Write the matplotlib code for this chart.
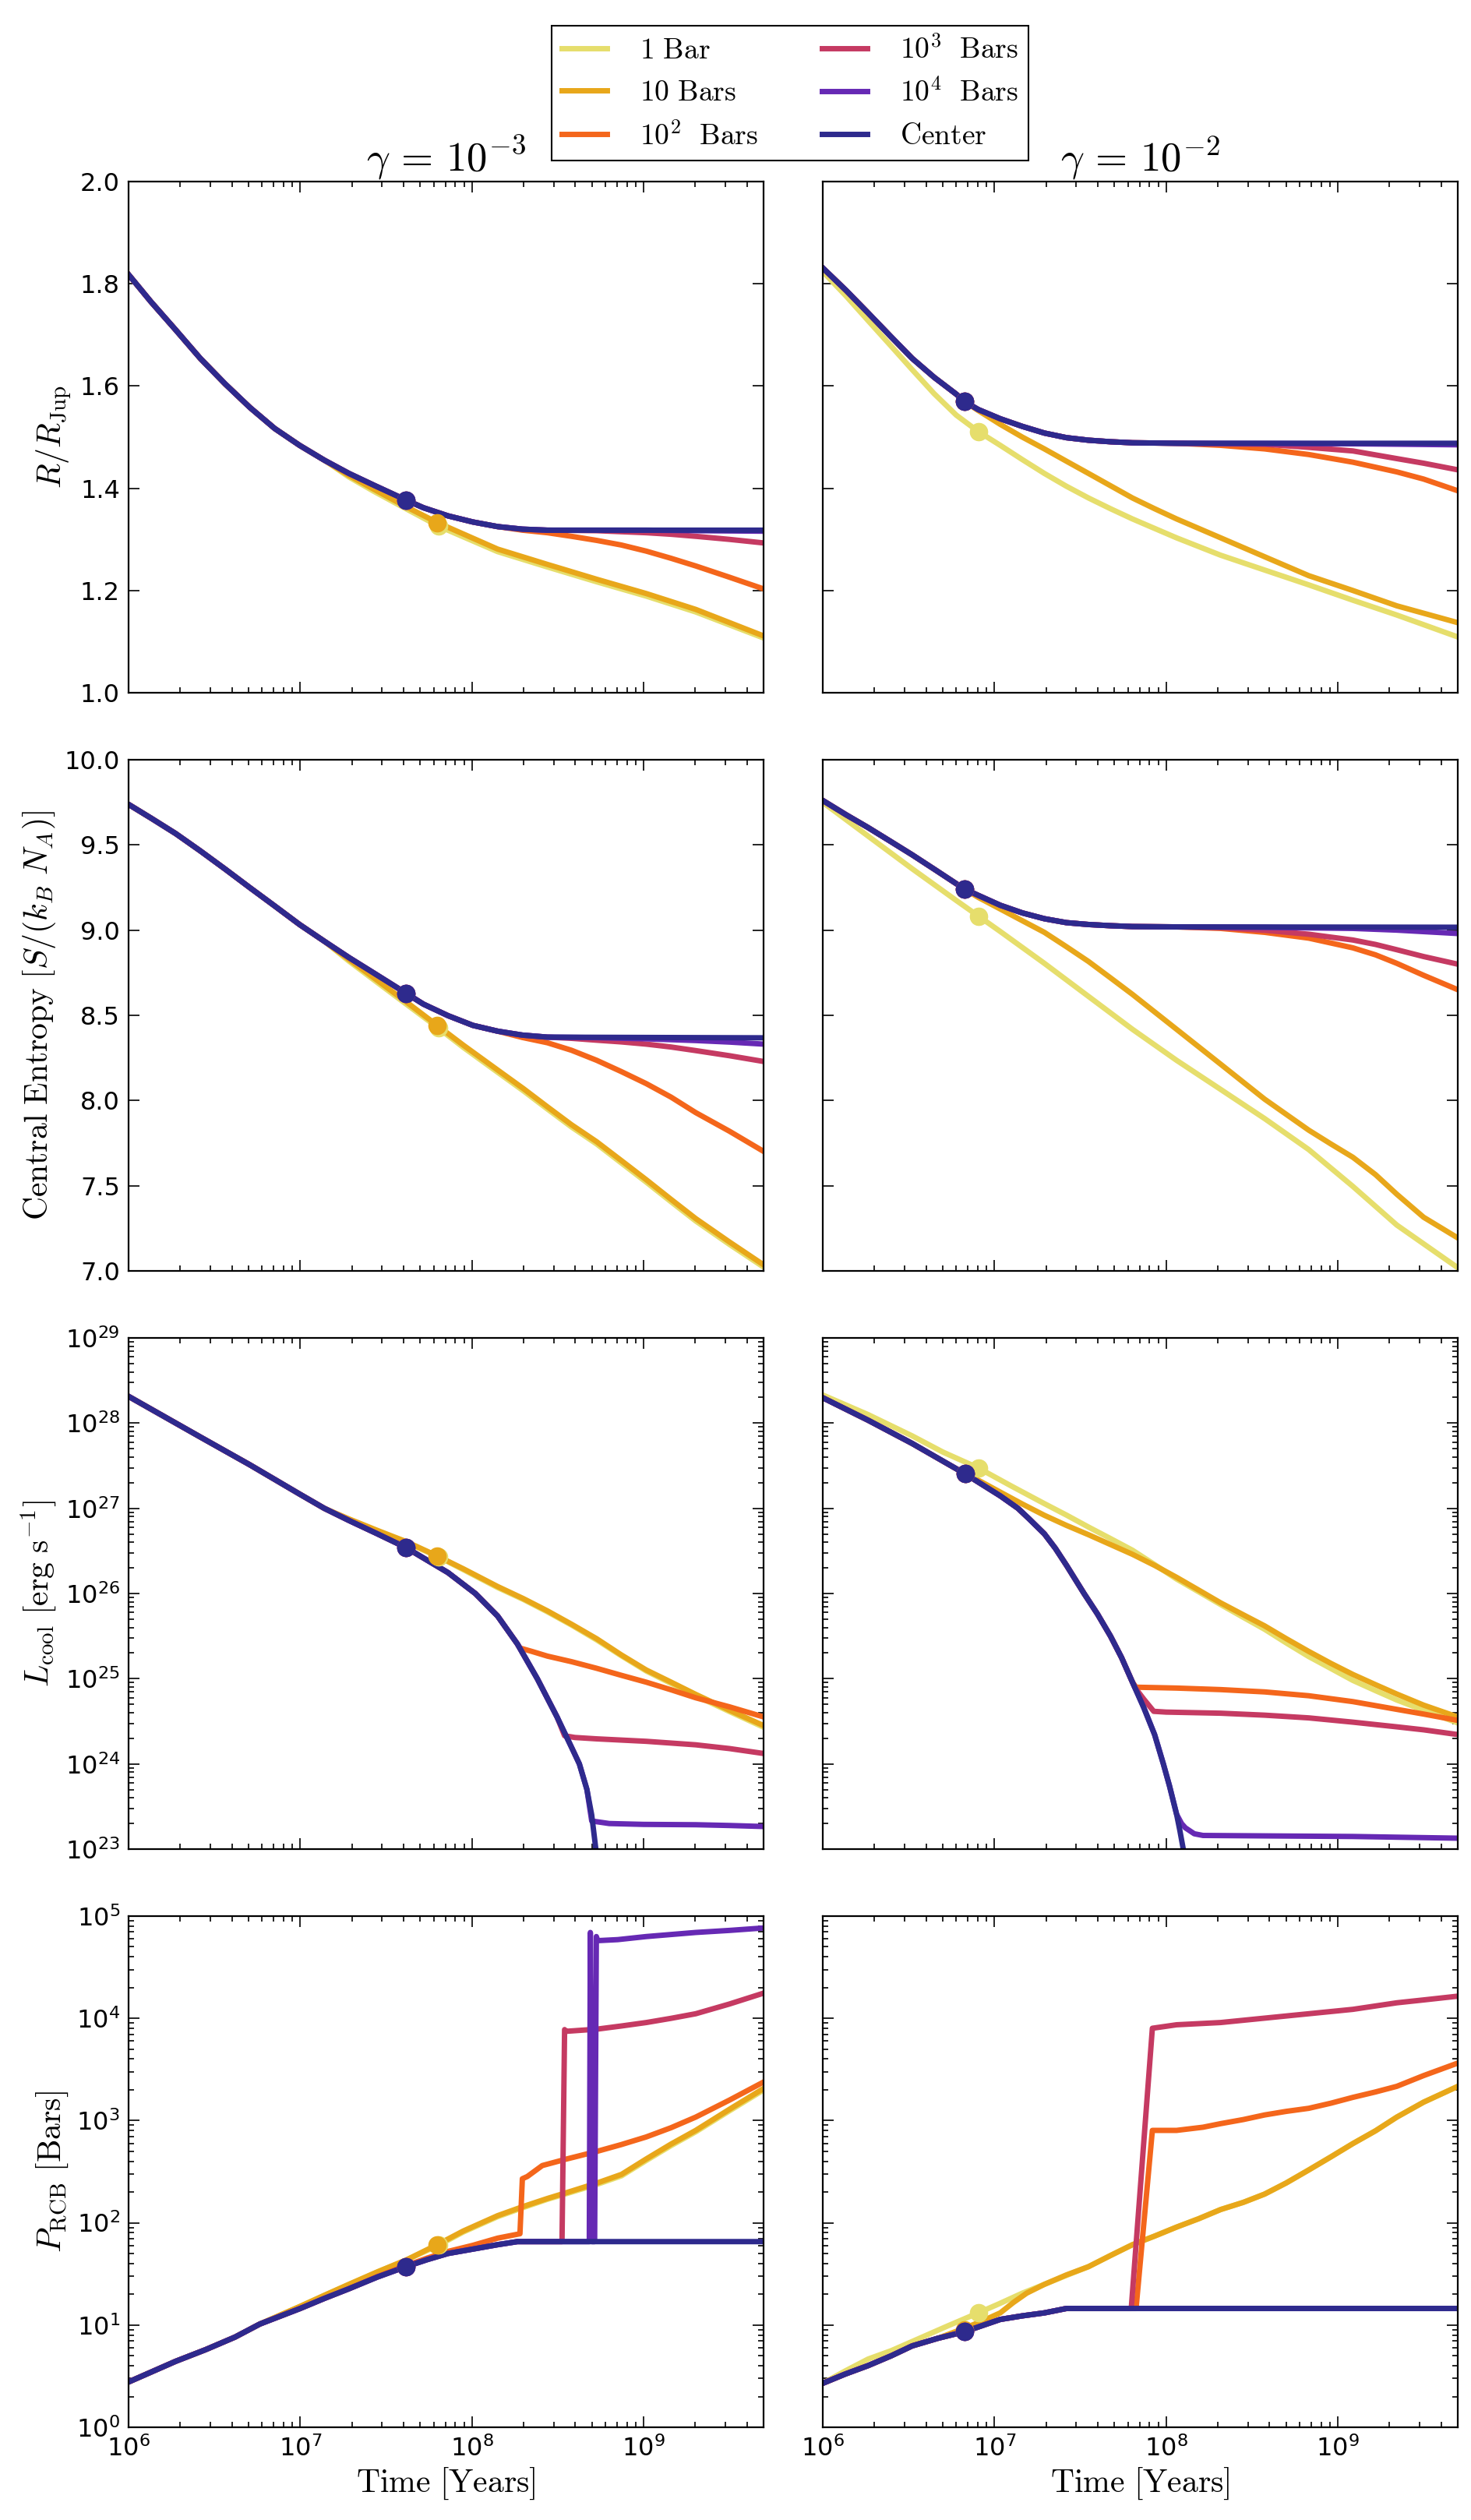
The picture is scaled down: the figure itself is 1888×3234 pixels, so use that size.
import numpy as np
import matplotlib
matplotlib.use('Agg')
import matplotlib.pyplot as plt

plt.rcParams['font.family'] = ['DejaVu Sans']
plt.rcParams['mathtext.fontset'] = 'dejavusans'

# series order: 1 Bar, 10 Bars, 1e2, 1e3, 1e4, Center
labels = [r'$\mathrm{1\ Bar}$', r'$\mathrm{10\ Bars}$', r'$10^2\ \ \mathrm{Bars}$',
          r'$10^3\ \ \mathrm{Bars}$', r'$10^4\ \ \mathrm{Bars}$', r'$\mathrm{Center}$']
colors = ['#e6de6c', '#e8a71a', '#f4661b', '#c53a62', '#6629b4', '#2e2a8d']

# times are log10(t / yr). Each panel: the Center track, then for the other
# five series the part after they leave the Center track.

# ---- radius, gamma = 1e-3
radius_lo_ct = [6.0, 6.13, 6.274, 6.418, 6.563, 6.707, 6.851, 6.996, 7.14, 7.284, 7.429, 7.616,
                7.717, 7.861, 8.006, 8.15, 8.294, 8.439, 9.7]
radius_lo_cv = [1.818, 1.765, 1.710, 1.654, 1.604, 1.558, 1.517, 1.484, 1.455, 1.429, 1.406, 1.377,
                1.362, 1.346, 1.334, 1.325, 1.320, 1.318, 1.318]
radius_lo_tails = [
    ([7.284, 7.429, 7.616, 7.805, 8.15, 8.44, 8.727, 9.016, 9.304, 9.7],
     [1.422, 1.394, 1.360, 1.326, 1.276, 1.246, 1.217, 1.189, 1.158, 1.107]),
    ([7.284, 7.429, 7.616, 7.798, 8.15, 8.44, 8.727, 9.016, 9.304, 9.7],
     [1.425, 1.398, 1.364, 1.333, 1.281, 1.251, 1.222, 1.194, 1.163, 1.111]),
    ([8.294, 8.44, 8.58, 8.727, 8.87, 9.016, 9.16, 9.304, 9.5, 9.7],
     [1.318, 1.313, 1.306, 1.298, 1.289, 1.277, 1.263, 1.248, 1.226, 1.203]),
    ([8.727, 9.016, 9.16, 9.304, 9.5, 9.7],
     [1.317, 1.313, 1.310, 1.306, 1.300, 1.293]),
    ([9.016, 9.304, 9.7], [1.318, 1.317, 1.316]),
]
radius_lo_mt = [7.805, 7.798, 7.616, 7.616, 7.616, 7.616]
radius_lo_mv = [1.326, 1.333, 1.377, 1.377, 1.377, 1.377]

# ---- radius, gamma = 1e-2
radius_hi_ct = [6.0, 6.136, 6.264, 6.393, 6.521, 6.649, 6.778, 6.824, 6.906, 7.034, 7.163, 7.291,
                7.419, 7.548, 7.676, 7.804, 8.061, 9.7]
radius_hi_cv = [1.831, 1.787, 1.743, 1.698, 1.654, 1.617, 1.584, 1.570, 1.554, 1.536, 1.521, 1.508,
                1.499, 1.494, 1.491, 1.489, 1.488, 1.488]
radius_hi_tails = [
    ([6.0, 6.136, 6.264, 6.393, 6.521, 6.649, 6.778, 6.906, 7.034, 7.163, 7.291, 7.419, 7.548,
      7.676, 7.804, 8.061, 8.318, 8.574, 8.831, 9.088, 9.344, 9.7],
     [1.824, 1.776, 1.728, 1.680, 1.632, 1.585, 1.543, 1.511, 1.484, 1.456, 1.429, 1.404, 1.381,
      1.360, 1.340, 1.303, 1.269, 1.240, 1.211, 1.181, 1.152, 1.109]),
    ([6.906, 7.034, 7.163, 7.291, 7.419, 7.548, 7.676, 7.804, 7.933, 8.061, 8.318, 8.574, 8.831,
      9.088, 9.344, 9.7],
     [1.552, 1.525, 1.500, 1.477, 1.453, 1.429, 1.405, 1.381, 1.360, 1.340, 1.303, 1.266, 1.229,
      1.200, 1.170, 1.137]),
    ([8.318, 8.574, 8.831, 9.088, 9.344, 9.5, 9.7],
     [1.484, 1.477, 1.466, 1.451, 1.432, 1.418, 1.395]),
    ([8.574, 8.831, 9.088, 9.344, 9.5, 9.7],
     [1.486, 1.480, 1.473, 1.458, 1.449, 1.436]),
    ([9.088, 9.7], [1.487, 1.485]),
]
radius_hi_mt = [6.906, 6.824, 6.824, 6.824, 6.824, 6.824]
radius_hi_mv = [1.511, 1.570, 1.570, 1.570, 1.570, 1.570]

# ---- central entropy, gamma = 1e-3
entropy_lo_ct = [6.0, 6.13, 6.274, 6.418, 6.563, 6.707, 6.851, 6.996, 7.14, 7.284, 7.429, 7.616,
                 7.717, 7.861, 8.006, 8.15, 8.294, 8.439, 9.7]
entropy_lo_cv = [9.738, 9.658, 9.567, 9.465, 9.358, 9.249, 9.142, 9.033, 8.935, 8.839, 8.748, 8.630,
                 8.566, 8.498, 8.441, 8.407, 8.384, 8.372, 8.368]
entropy_lo_tails = [
    ([7.284, 7.429, 7.616, 7.805, 7.95, 8.15, 8.3, 8.44, 8.58, 8.727, 8.87, 9.016, 9.16, 9.304,
      9.5, 9.7],
     [8.818, 8.708, 8.567, 8.425, 8.312, 8.166, 8.057, 7.950, 7.845, 7.745, 7.634, 7.521, 7.406,
      7.293, 7.156, 7.022]),
    ([7.284, 7.429, 7.616, 7.798, 7.95, 8.15, 8.3, 8.44, 8.58, 8.727, 8.87, 9.016, 9.16, 9.304,
      9.5, 9.7],
     [8.828, 8.720, 8.580, 8.441, 8.325, 8.179, 8.070, 7.963, 7.858, 7.758, 7.648, 7.535, 7.420,
      7.307, 7.170, 7.035]),
    ([8.294, 8.44, 8.58, 8.727, 8.87, 9.016, 9.16, 9.304, 9.5, 9.7],
     [8.370, 8.339, 8.295, 8.236, 8.170, 8.099, 8.020, 7.929, 7.820, 7.701]),
    ([8.58, 8.727, 8.87, 9.016, 9.16, 9.304, 9.5, 9.7],
     [8.365, 8.354, 8.344, 8.331, 8.314, 8.293, 8.263, 8.229]),
    ([8.727, 9.016, 9.304, 9.5, 9.7], [8.369, 8.362, 8.352, 8.343, 8.331]),
]
entropy_lo_mt = [7.805, 7.798, 7.616, 7.616, 7.616, 7.616]
entropy_lo_mv = [8.425, 8.441, 8.630, 8.630, 8.630, 8.630]

# ---- central entropy, gamma = 1e-2
entropy_hi_ct = [6.0, 6.136, 6.264, 6.393, 6.521, 6.649, 6.824, 6.906, 7.034, 7.163, 7.291, 7.419,
                 7.548, 7.676, 7.804, 8.061, 9.7]
entropy_hi_cv = [9.761, 9.677, 9.602, 9.522, 9.442, 9.358, 9.242, 9.204, 9.146, 9.101, 9.067, 9.044,
                 9.033, 9.026, 9.021, 9.019, 9.017]
entropy_hi_tails = [
    ([6.0, 6.264, 6.521, 6.778, 6.906, 7.034, 7.291, 7.548, 7.804, 8.061, 8.318, 8.574, 8.831,
      9.088, 9.344, 9.7],
     [9.750, 9.552, 9.360, 9.174, 9.083, 8.992, 8.805, 8.611, 8.418, 8.236, 8.065, 7.894, 7.712,
      7.496, 7.269, 7.018]),
    ([6.906, 7.034, 7.163, 7.291, 7.419, 7.548, 7.676, 7.804, 8.061, 8.318, 8.574, 8.831, 8.96,
      9.088, 9.22, 9.344, 9.5, 9.7],
     [9.192, 9.124, 9.055, 8.987, 8.903, 8.816, 8.720, 8.623, 8.418, 8.213, 8.008, 7.826, 7.745,
      7.667, 7.565, 7.450, 7.315, 7.193]),
    ([8.318, 8.574, 8.831, 9.088, 9.22, 9.344, 9.5, 9.7],
     [9.010, 8.987, 8.953, 8.896, 8.855, 8.805, 8.735, 8.650]),
    ([8.318, 8.574, 8.831, 9.088, 9.22, 9.344, 9.5, 9.7],
     [9.015, 8.999, 8.976, 8.942, 8.916, 8.885, 8.845, 8.800]),
    ([8.574, 9.088, 9.344, 9.7], [9.016, 9.010, 9.000, 8.980]),
]
entropy_hi_mt = [6.906, 6.824, 6.824, 6.824, 6.824, 6.824]
entropy_hi_mv = [9.083, 9.242, 9.242, 9.242, 9.242, 9.242]

# ---- log10 L_cool [erg/s], gamma = 1e-3
lum_lo_ct = [6.0, 6.418, 6.707, 7.0, 7.14, 7.284, 7.45, 7.616, 7.861, 8.02, 8.15, 8.265, 8.381,
             8.496, 8.583, 8.626, 8.67, 8.698, 8.722, 8.76]
lum_lo_cv = [28.314, 27.837, 27.51, 27.163, 27.0, 26.857, 26.70, 26.539, 26.245, 26.0, 25.735,
             25.408, 25.0, 24.551, 24.184, 24.0, 23.70, 23.40, 23.0, 22.5]
lum_lo_tails = [
    ([7.284, 7.45, 7.616, 7.805, 7.95, 8.15, 8.3, 8.44, 8.58, 8.727, 8.87, 9.016, 9.16, 9.304,
      9.5, 9.7],
     [26.868, 26.73, 26.60, 26.43, 26.28, 26.07, 25.93, 25.785, 25.63, 25.455, 25.27, 25.09,
      24.945, 24.80, 24.615, 24.43]),
    ([7.284, 7.45, 7.616, 7.798, 7.95, 8.15, 8.3, 8.44, 8.58, 8.727, 8.87, 9.016, 9.16, 9.304,
      9.5, 9.7],
     [26.875, 26.74, 26.61, 26.441, 26.29, 26.082, 25.94, 25.796, 25.64, 25.469, 25.28, 25.102,
      24.96, 24.816, 24.63, 24.449]),
    ([8.28, 8.35, 8.44, 8.58, 8.727, 8.87, 9.016, 9.16, 9.304, 9.5, 9.7],
     [25.36, 25.32, 25.265, 25.20, 25.122, 25.04, 24.959, 24.87, 24.776, 24.67, 24.551]),
    ([8.54, 8.6, 8.727, 9.016, 9.304, 9.5, 9.7],
     [24.33, 24.31, 24.294, 24.265, 24.224, 24.18, 24.122]),
    ([8.698, 8.8, 9.0, 9.304, 9.5, 9.7],
     [23.33, 23.30, 23.29, 23.286, 23.277, 23.265]),
]
lum_lo_mt = [7.805, 7.798, 7.616, 7.616, 7.616, 7.616]
lum_lo_mv = [26.43, 26.441, 26.539, 26.539, 26.539, 26.539]

# ---- log10 L_cool [erg/s], gamma = 1e-2
lum_hi_ct = [6.0, 6.264, 6.521, 6.829, 7.034, 7.137, 7.2, 7.291, 7.355, 7.42, 7.522, 7.6, 7.676,
             7.74, 7.804, 7.87, 7.933, 7.984, 8.02, 8.061, 8.08, 8.1, 8.14]
lum_hi_cv = [28.298, 28.034, 27.761, 27.405, 27.146, 27.0, 26.88, 26.70, 26.53, 26.33, 26.0,
             25.76, 25.5, 25.25, 24.959, 24.66, 24.344, 24.0, 23.74, 23.41, 23.22, 23.0, 22.6]
lum_hi_tails = [
    ([6.0, 6.264, 6.521, 6.7, 6.906, 7.1, 7.291, 7.42, 7.548, 7.676, 7.804, 7.933, 8.061, 8.19,
      8.318, 8.45, 8.574, 8.7, 8.831, 8.96, 9.088, 9.22, 9.344, 9.5, 9.7],
     [28.33, 28.10, 27.85, 27.66, 27.474, 27.26, 27.055, 26.92, 26.78, 26.645, 26.508, 26.34,
      26.17, 26.02, 25.87, 25.72, 25.58, 25.42, 25.26, 25.12, 24.98, 24.86, 24.75, 24.63, 24.48]),
    ([6.906, 7.034, 7.163, 7.291, 7.419, 7.548, 7.676, 7.804, 7.933, 8.061, 8.19, 8.318, 8.45,
      8.574, 8.7, 8.831, 8.96, 9.088, 9.22, 9.344, 9.5, 9.7],
     [27.33, 27.19, 27.05, 26.918, 26.80, 26.69, 26.575, 26.46, 26.33, 26.19, 26.04, 25.89, 25.75,
      25.62, 25.47, 25.32, 25.18, 25.05, 24.93, 24.82, 24.69, 24.55]),
    ([7.825, 7.95, 8.061, 8.318, 8.574, 8.831, 9.088, 9.344, 9.5, 9.7],
     [24.90, 24.895, 24.89, 24.872, 24.845, 24.80, 24.731, 24.64, 24.585, 24.51]),
    ([7.817, 7.87, 7.928, 8.0, 8.318, 8.574, 8.831, 9.088, 9.344, 9.5, 9.7],
     [24.90, 24.76, 24.617, 24.608, 24.595, 24.572, 24.54, 24.49, 24.435, 24.40, 24.344]),
    ([8.061, 8.09, 8.112, 8.164, 8.215, 8.574, 9.088, 9.7],
     [23.41, 23.30, 23.25, 23.18, 23.16, 23.155, 23.148, 23.128]),
]
lum_hi_mt = [6.906, 6.829, 6.829, 6.829, 6.829, 6.829]
lum_hi_mv = [27.474, 27.405, 27.405, 27.405, 27.405, 27.405]

# ---- log10 P_RCB [bar], gamma = 1e-3
prcb_lo_ct = [6.0, 6.274, 6.45, 6.62, 6.765, 7.0, 7.14, 7.284, 7.45, 7.616, 7.74, 7.861, 8.006,
              8.15, 8.265, 9.7]
prcb_lo_cv = [0.443, 0.645, 0.76, 0.882, 1.01, 1.162, 1.26, 1.355, 1.47, 1.571, 1.64, 1.70, 1.743,
              1.786, 1.816, 1.816]
prcb_lo_tails = [
    ([7.0, 7.14, 7.284, 7.45, 7.616, 7.805, 7.95, 8.15, 8.3, 8.44, 8.58, 8.727, 8.872, 9.016,
      9.16, 9.304, 9.5, 9.7],
     [1.183, 1.29, 1.398, 1.52, 1.635, 1.78, 1.91, 2.06, 2.15, 2.23, 2.30, 2.375, 2.46, 2.61,
      2.755, 2.89, 3.095, 3.30]),
    ([7.0, 7.14, 7.284, 7.45, 7.616, 7.798, 7.95, 8.15, 8.3, 8.44, 8.58, 8.727, 8.872, 9.016,
      9.16, 9.304, 9.5, 9.7],
     [1.183, 1.29, 1.398, 1.52, 1.635, 1.786, 1.92, 2.07, 2.16, 2.238, 2.31, 2.388, 2.474, 2.625,
      2.77, 2.904, 3.11, 3.315]),
    ([7.45, 7.616, 7.74, 7.861, 8.006, 8.15, 8.28, 8.294, 8.323, 8.41, 8.554, 8.727, 8.87, 9.016,
      9.16, 9.304, 9.5, 9.7],
     [1.475, 1.58, 1.655, 1.72, 1.78, 1.85, 1.893, 2.431, 2.453, 2.56, 2.625, 2.698, 2.765, 2.84,
      2.93, 3.034, 3.20, 3.378]),
    ([8.525, 8.54, 8.548, 8.727, 8.87, 9.016, 9.16, 9.304, 9.5, 9.7],
     [1.816, 3.89, 3.873, 3.894, 3.925, 3.959, 4.0, 4.045, 4.14, 4.247]),
    ([8.684, 8.69, 8.70, 8.715, 8.725, 8.733, 8.85, 9.016, 9.304, 9.5, 9.7],
     [1.816, 4.84, 1.816, 1.816, 4.80, 4.76, 4.77, 4.80, 4.84, 4.86, 4.884]),
]
prcb_lo_mt = [7.805, 7.798, 7.616, 7.616, 7.616, 7.616]
prcb_lo_mv = [1.78, 1.786, 1.571, 1.571, 1.571, 1.571]

# ---- log10 P_RCB [bar], gamma = 1e-2
prcb_hi_ct = [6.0, 6.13, 6.264, 6.4, 6.521, 6.67, 6.824, 7.034, 7.163, 7.291, 7.419, 9.7]
prcb_hi_cv = [0.43, 0.52, 0.603, 0.70, 0.796, 0.87, 0.934, 1.055, 1.09, 1.119, 1.162, 1.162]
prcb_hi_tails = [
    ([6.0, 6.13, 6.264, 6.4, 6.521, 6.726, 6.906, 7.03, 7.163, 7.291, 7.419, 7.548, 7.676, 7.804,
      7.933, 8.061, 8.19, 8.318, 8.45, 8.574, 8.7, 8.831, 8.96, 9.088, 9.22, 9.344, 9.5, 9.7],
     [0.43, 0.55, 0.667, 0.75, 0.839, 0.99, 1.119, 1.21, 1.312, 1.398, 1.485, 1.571, 1.68, 1.786,
      1.87, 1.958, 2.04, 2.13, 2.20, 2.281, 2.39, 2.517, 2.645, 2.775, 2.90, 3.034, 3.18, 3.335]),
    ([6.824, 6.93, 7.034, 7.11, 7.188, 7.291, 7.419, 7.548, 7.676, 7.804, 7.933, 8.061, 8.19,
      8.318, 8.45, 8.574, 8.7, 8.831, 8.96, 9.088, 9.22, 9.344, 9.5, 9.7],
     [0.968, 1.04, 1.119, 1.22, 1.312, 1.398, 1.49, 1.571, 1.68, 1.786, 1.87, 1.958, 2.04, 2.13,
      2.20, 2.281, 2.39, 2.517, 2.645, 2.775, 2.90, 3.034, 3.18, 3.335]),
    ([7.825, 7.92, 8.061, 8.215, 8.318, 8.45, 8.574, 8.7, 8.831, 8.96, 9.088, 9.22, 9.344, 9.5,
      9.7],
     [1.162, 2.904, 2.904, 2.935, 2.97, 3.01, 3.055, 3.09, 3.12, 3.17, 3.227, 3.28, 3.335, 3.44,
      3.563]),
    ([7.797, 7.92, 8.061, 8.318, 8.574, 8.831, 9.088, 9.344, 9.5, 9.7],
     [1.162, 3.903, 3.937, 3.959, 4.002, 4.045, 4.088, 4.152, 4.18, 4.217]),
    ([9.7], [1.162]),
]
prcb_hi_mt = [6.906, 6.824, 6.824, 6.824, 6.824, 6.824]
prcb_hi_mv = [1.119, 0.95, 0.934, 0.934, 0.934, 0.934]

panels = [
    [(radius_lo_ct, radius_lo_cv, radius_lo_tails, radius_lo_mt, radius_lo_mv),
     (radius_hi_ct, radius_hi_cv, radius_hi_tails, radius_hi_mt, radius_hi_mv)],
    [(entropy_lo_ct, entropy_lo_cv, entropy_lo_tails, entropy_lo_mt, entropy_lo_mv),
     (entropy_hi_ct, entropy_hi_cv, entropy_hi_tails, entropy_hi_mt, entropy_hi_mv)],
    [(lum_lo_ct, lum_lo_cv, lum_lo_tails, lum_lo_mt, lum_lo_mv),
     (lum_hi_ct, lum_hi_cv, lum_hi_tails, lum_hi_mt, lum_hi_mv)],
    [(prcb_lo_ct, prcb_lo_cv, prcb_lo_tails, prcb_lo_mt, prcb_lo_mv),
     (prcb_hi_ct, prcb_hi_cv, prcb_hi_tails, prcb_hi_mt, prcb_hi_mv)],
]
log_rows = [False, False, True, True]
ylabels = [r'$R/R_{\rm Jup}$', r'$\mathrm{Central\ Entropy}\ [S/(k_B\ N_A)]$',
           r'$L_{\rm cool}\ [\mathrm{erg\ s^{-1}}]$', r'$P_{\rm RCB}\ [\mathrm{Bars}]$']
ylims = [(1.0, 2.0), (7.0, 10.0), (1e23, 1e29), (1e0, 1e5)]
titles = [r'$\gamma\,=\,10^{-3}$', r'$\gamma\,=\,10^{-2}$']


def branch(ct, cv, tail):
    # Center track up to where the series leaves it, then the series' own points
    t0 = tail[0][0]
    n = len([t for t in ct if t < t0])
    return list(ct[:n]) + list(tail[0]), list(cv[:n]) + list(tail[1])


W, H = 1888, 3234
fig = plt.figure(figsize=(W / 100, H / 100), dpi=100)
col_x = [165, 1056]
row_top = [233, 975, 1717, 2459]
aw, ah = 815, 656

handles = []
for r in range(4):
    logy = log_rows[r]
    for c in range(2):
        ct, cv, tails, mt, mv = panels[r][c]
        ax = fig.add_axes([col_x[c] / W, 1 - (row_top[r] + ah) / H, aw / W, ah / H])
        series = [branch(ct, cv, tl) for tl in tails] + [(ct, cv)]
        for i, (t, v) in enumerate(series):
            t = 10 ** np.array(t)
            v = np.array(v)
            if logy:
                v = 10 ** v
            ln, = ax.plot(t, v, color=colors[i], lw=5, solid_joinstyle='round', label=labels[i])
            if r == 0 and c == 0:
                handles.append(ln)
        for i in range(6):
            yv = 10 ** mv[i] if logy else mv[i]
            ax.plot(10 ** mt[i], yv, 'o', color=colors[i], ms=16, mec=colors[i], zorder=5)
        ax.set_xscale('log')
        ax.set_xlim(1e6, 5e9)
        if logy:
            ax.set_yscale('log')
        ax.set_ylim(*ylims[r])
        if r == 0:
            ax.set_yticks(np.arange(1.0, 2.01, 0.2))
        ax.tick_params(which='both', direction='in', top=True, right=True, labelsize=23, width=1.2)
        ax.tick_params(which='major', length=10, pad=8)
        ax.tick_params(which='minor', length=5)
        for s in ax.spines.values():
            s.set_linewidth(1.6)
        if c == 1:
            ax.tick_params(labelleft=False)
        else:
            ax.set_ylabel(ylabels[r], fontsize=30, math_fontfamily='cm', labelpad=6)
        if r < 3:
            ax.tick_params(labelbottom=False)
        else:
            ax.set_xlabel(r'$\mathrm{Time\ [Years]}$', fontsize=30, math_fontfamily='cm')
        if r == 0:
            ax.set_title(titles[c], fontsize=38, math_fontfamily='cm', pad=5)

leg = fig.legend(handles, labels, loc='upper center', bbox_to_anchor=(1014 / W, 1 - 33 / H),
                 ncol=2, fontsize=27, fancybox=False, edgecolor='black', framealpha=1,
                 borderaxespad=0, handlelength=1.55, handletextpad=1.1, columnspacing=2.2,
                 labelspacing=0.5, borderpad=0.35)
leg.get_frame().set_linewidth(1.5)
for txt in leg.get_texts():
    txt.set_math_fontfamily('cm')

fig.savefig('out.png', dpi=100)
